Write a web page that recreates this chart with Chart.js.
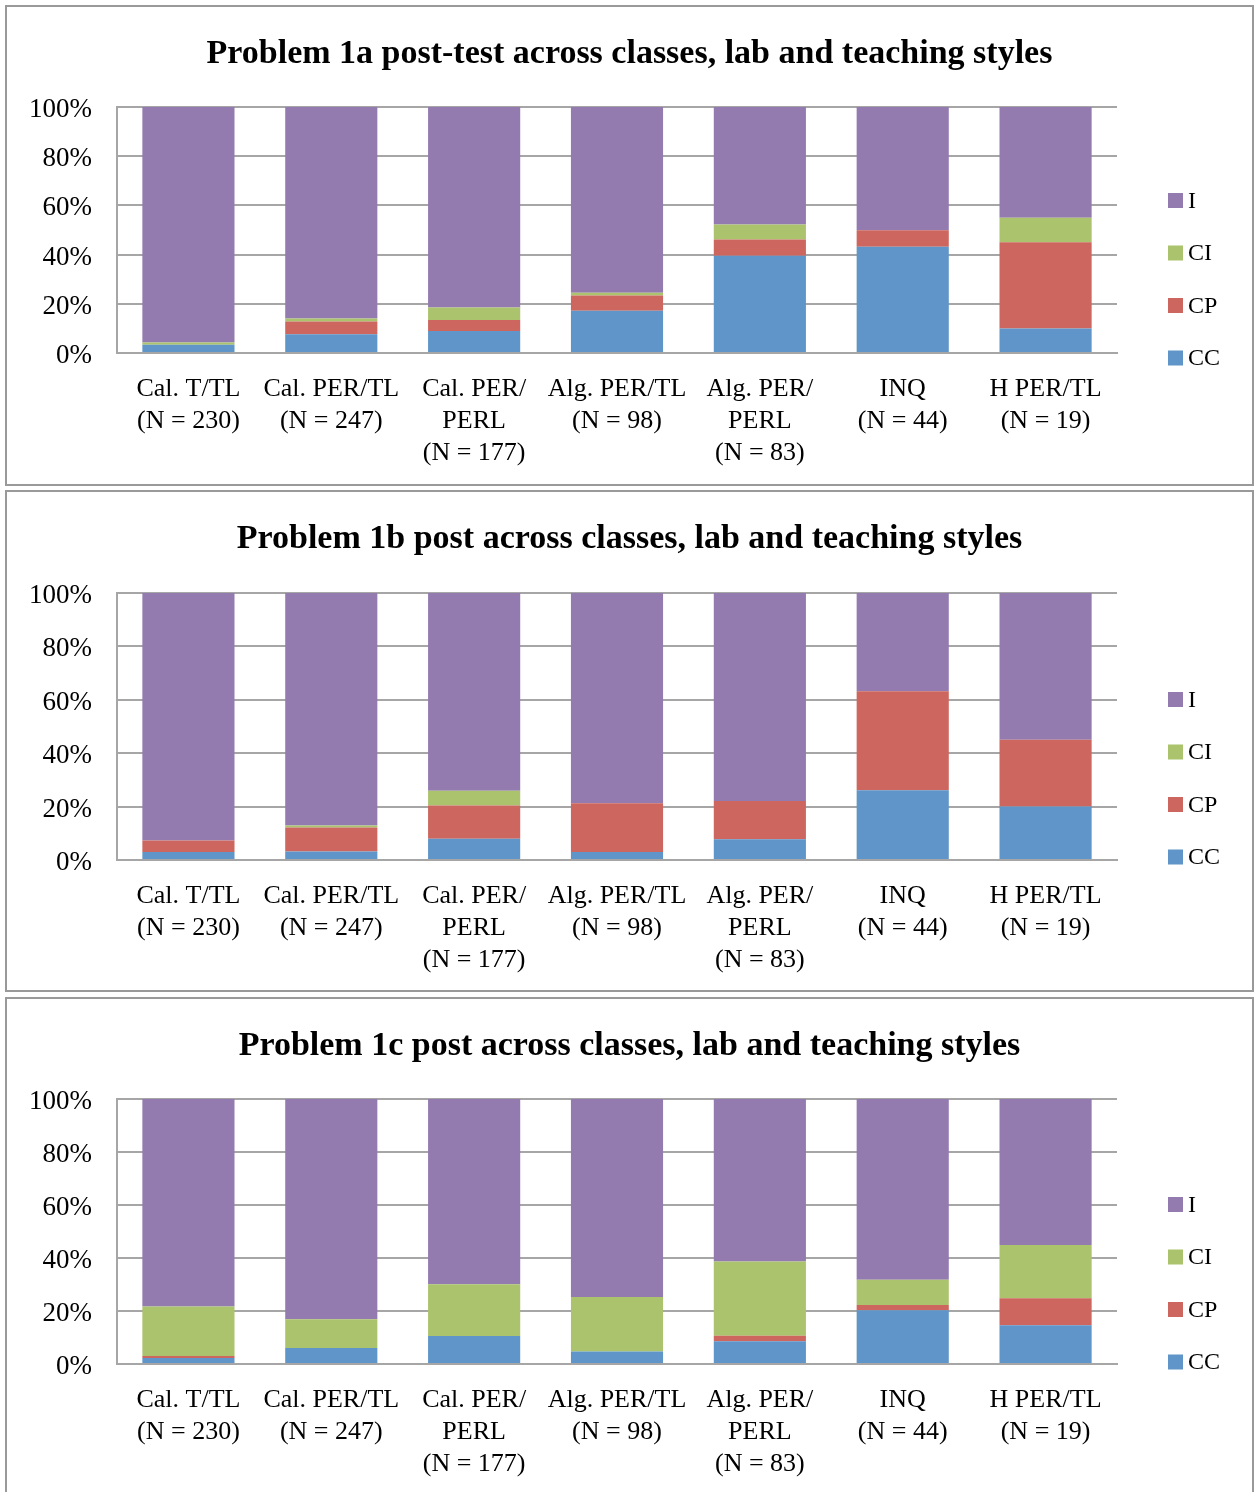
<!DOCTYPE html>
<html>
<head>
<meta charset="utf-8">
<script src="https://cdn.jsdelivr.net/npm/chart.js@4.4.0/dist/chart.umd.min.js"></script>
<style>
  body { margin: 0; background: #fff; overflow: hidden; }
  .box { position: absolute; left: 5px; width: 1249px; border: 2px solid #999; box-sizing: border-box; background: #fff; }
  .box canvas { position: absolute; left: 0; top: 0; }
</style>
</head>
<body>
<div class="box" style="top:5px;height:481px"><canvas id="c1" width="1245" height="477"></canvas></div>
<div class="box" style="top:490px;height:502px"><canvas id="c2" width="1245" height="498"></canvas></div>
<div class="box" style="top:997px;height:510px"><canvas id="c3" width="1245" height="506"></canvas></div>
<script>
// categories shared by all three charts
var groups = [
	["Cal. T/TL", "(N = 230)"],
	["Cal. PER/TL", "(N = 247)"],
	["Cal. PER/", "PERL", "(N = 177)"],
	["Alg. PER/TL", "(N = 98)"],
	["Alg. PER/", "PERL", "(N = 83)"],
	["INQ", "(N = 44)"],
	["H PER/TL", "(N = 19)"]
];
var yTicks = [0, 20, 40, 60, 80, 100];

// problem 1a (percent)
var cc1a = [3.4, 7.6, 8.9, 17.2, 39.5, 43.2, 10];
var cp1a = [0, 5.2, 4.5, 6.2, 6.6, 6.7, 35];
var ci1a = [0.9, 1.2, 5.1, 1.1, 6.1, 0, 10];
var i1a  = [95.7, 86, 81.5, 75.5, 47.8, 50.1, 45];

// problem 1b
var cc1b = [3, 3.2, 8, 3, 7.8, 26.1, 20];
var cp1b = [4.3, 9, 12.4, 18.3, 14.3, 37.1, 25];
var ci1b = [0, 0.7, 5.5, 0, 0, 0, 0];
var i1b  = [92.7, 87.1, 74.1, 78.7, 77.9, 36.8, 55];

// problem 1c
var cc1c = [2.3, 6, 10.6, 4.7, 8.6, 20.3, 14.6];
var cp1c = [0.7, 0, 0, 0, 2.1, 2, 10.2];
var ci1c = [18.7, 10.9, 19.5, 20.6, 28, 9.5, 20.1];
var i1c  = [78.3, 83.1, 69.9, 74.7, 61.3, 68.2, 55.1];

Chart.defaults.font.family = "'Liberation Serif', 'DejaVu Serif', serif";
Chart.defaults.color = '#000';

// legend on the right, drawn from the datasets (top to bottom: I, CI, CP, CC)
var sideLegend = {
	id: 'sideLegend',
	afterDraw: function(chart, args, opts) {
		var ctx = chart.ctx;
		var sets = chart.data.datasets;
		var bottom = chart.chartArea.bottom + (opts.shift || 0);
		ctx.save();
		ctx.font = "24px 'Liberation Serif', serif";
		ctx.textBaseline = 'middle';
		for (var k = 0; k < sets.length; k++) {
			var y = bottom - k * 52.5;
			ctx.fillStyle = sets[k].backgroundColor;
			ctx.fillRect(1161, y - 7.5, 15, 15);
			ctx.fillStyle = '#000';
			ctx.fillText(sets[k].label, 1181, y + 1);
		}
		ctx.restore();
	}
};

function makeChart(id, title, cc, cp, ci, inc, plotTop, xHeight, legShift) {
	var titleTop = 27;
	var titleH = 34 * 1.2;
	new Chart(document.getElementById(id), {
		type: 'bar',
		data: {
			labels: groups,
			datasets: [
				{ label: 'CC', data: cc, backgroundColor: '#5f95c8' },
				{ label: 'CP', data: cp, backgroundColor: '#cc665e' },
				{ label: 'CI', data: ci, backgroundColor: '#aac36c' },
				{ label: 'I', data: inc, backgroundColor: '#937bb0' }
			]
		},
		options: {
			responsive: false,
			devicePixelRatio: 1,
			animation: false,
			layout: { padding: 0 },
			categoryPercentage: 1,
			barPercentage: 0.645,
			plugins: {
				legend: { display: false },
				tooltip: { enabled: false },
				sideLegend: { shift: legShift },
				title: {
					display: true,
					text: title,
					color: '#000',
					font: { size: 34, weight: 'bold', lineHeight: 1.2 },
					padding: { top: titleTop, bottom: plotTop - titleTop - titleH }
				}
			},
			scales: {
				x: {
					stacked: true,
					grid: { display: false, drawTicks: false },
					border: { color: '#a6a6a6', width: 2 },
					ticks: { font: { size: 26, lineHeight: 1.23 }, padding: 20, maxRotation: 0, autoSkip: false },
					afterFit: function(scale) { scale.height = xHeight; }
				},
				y: {
					stacked: true,
					min: yTicks[0],
					max: yTicks[yTicks.length - 1],
					grid: { color: '#a6a6a6', lineWidth: 2, drawTicks: false },
					border: { color: '#a6a6a6', width: 2 },
					ticks: {
						stepSize: 20,
						padding: 25,
						labelOffset: 3,
						font: { size: 27 },
						callback: function(v) { return v + '%'; }
					},
					afterFit: function(scale) { scale.width = 110; }
				},
				// empty right axis, only keeps room for the legend
				side: {
					position: 'right',
					grid: { display: false, drawTicks: false },
					border: { display: false },
					ticks: { display: false },
					afterFit: function(scale) { scale.width = 135; }
				}
			}
		},
		plugins: [sideLegend]
	});
}

makeChart('c1', 'Problem 1a post-test across classes, lab and teaching styles', cc1a, cp1a, ci1a, i1a, 100, 131, 5);
makeChart('c2', 'Problem 1b post across classes, lab and teaching styles', cc1b, cp1b, ci1b, i1b, 101, 130, -3);
makeChart('c3', 'Problem 1c post across classes, lab and teaching styles', cc1c, cp1c, ci1c, i1c, 100, 141, -2);
</script>
</body>
</html>
